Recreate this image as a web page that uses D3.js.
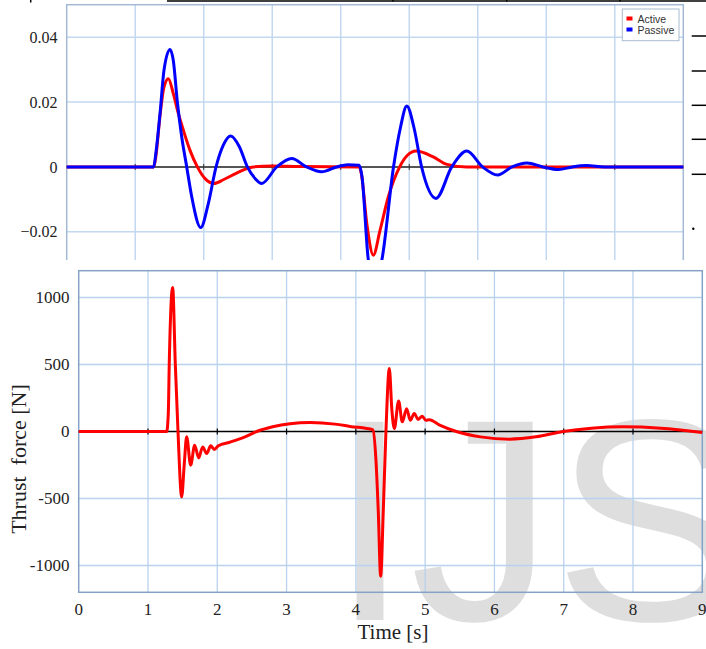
<!DOCTYPE html>
<html>
<head>
<meta charset="utf-8">
<script src="https://cdn.jsdelivr.net/npm/d3@7"></script>
<style>
  body { margin: 0; background: #fff; }
  svg text { font-family: "Liberation Serif", "Times New Roman", serif; fill: #222; }
  svg .legend text { font-family: "Liberation Sans", Arial, sans-serif; fill: #333; }
</style>
</head>
<body>
<div id="chart"></div>
<script>
// time axis shared by both panels
var timeTicks = [0, 1, 2, 3, 4, 5, 6, 7, 8, 9];
var dispTicks = [0.04, 0.02, 0, -0.02];
var forceTicks = [1000, 500, 0, -500, -1000];
var seriesNames = ["Active", "Passive"];

// [t, value]
var activeDisp = [
  [0, 0], [1.27, 0], [1.30, 0.003], [1.362, 0.0158], [1.42, 0.0246], [1.484, 0.0272],
  [1.556, 0.0226], [1.63, 0.0164], [1.703, 0.0113], [1.80, 0.0051], [1.907, 0],
  [2.02, -0.0036], [2.15, -0.0051], [2.30, -0.0038], [2.48, -0.0019], [2.72, 0],
  [3.0, 0.0003], [3.4, 0.0001], [4.27, 0], [4.30, -0.002], [4.38, -0.0174],
  [4.476, -0.0272], [4.574, -0.0195], [4.695, -0.0092], [4.86, 0], [4.97, 0.0035],
  [5.10, 0.0049], [5.35, 0.0031], [5.55, 0.0008], [5.84, 0], [9, 0]
];
var passiveDisp = [
  [0, 0], [1.27, 0], [1.30, 0.004], [1.362, 0.0164], [1.42, 0.0298], [1.508, 0.0362],
  [1.556, 0.0328], [1.615, 0.02], [1.679, 0.0092], [1.752, 0], [1.825, -0.0092],
  [1.956, -0.0187], [2.067, -0.0113], [2.18, 0], [2.286, 0.0067], [2.394, 0.0095],
  [2.52, 0.0062], [2.637, 0], [2.75, -0.0036], [2.847, -0.0051], [3.066, 0],
  [3.285, 0.0026], [3.50, 0], [3.72, -0.0015], [3.94, 0], [4.1, 0.0007], [4.27, 0.0005],
  [4.31, -0.003], [4.403, -0.0287], [4.50, -0.036], [4.60, -0.0287], [4.77, 0],
  [4.87, 0.012], [4.964, 0.0188], [5.07, 0.012], [5.18, 0], [5.39, -0.0097], [5.62, 0],
  [5.84, 0.0049], [6.07, 0], [6.29, -0.0025], [6.50, 0], [6.72, 0.0012], [6.95, 0],
  [7.18, -0.0008], [7.38, 0], [7.59, 0.0004], [7.85, 0], [9, 0]
];
var thrustForce = [
  [0, 0], [1.27, 0], [1.293, 134], [1.307, 507], [1.356, 1075], [1.394, 507], [1.433, 0],
  [1.486, -488], [1.524, -239], [1.558, -40], [1.616, -251], [1.674, -102], [1.731, -197],
  [1.789, -115], [1.847, -164], [1.905, -107], [1.957, -134], [2.015, -107], [2.18, -80],
  [2.4, -40], [2.57, 0], [2.8, 35], [3.05, 58], [3.34, 67], [3.7, 55], [3.915, 38],
  [4.25, 12], [4.29, -214], [4.323, -587], [4.358, -1080], [4.396, -587], [4.434, 0],
  [4.483, 470], [4.52, 159], [4.555, 22], [4.617, 228], [4.67, 72], [4.733, 169],
  [4.785, 84], [4.843, 134], [4.9, 90], [4.958, 114], [5.01, 84], [5.06, 88], [5.21, 47],
  [5.45, 0], [5.8, -40], [6.22, -57], [6.6, -40], [6.99, 0], [7.4, 25], [7.86, 35],
  [8.4, 25], [9, -7]
];

(function() {
  var width = 706, height = 649;
  var serif = "'Liberation Serif', 'Times New Roman', serif";

  var svg = d3.select("#chart")
      .append("svg")
      .attr("width", width)
      .attr("height", height);

  var defs = svg.append("defs");
  defs.append("clipPath").attr("id", "topclip")
    .append("rect").attr("x", 0).attr("y", 0).attr("width", width).attr("height", 260);

  // ---------- top panel (displacement), cut off by the lower figure ----------
  var xt = d3.scaleLinear().domain([0, 9]).range([66.7, 683.3]);
  var yt = d3.scaleLinear().domain([-0.04, 0.05]).range([296.7, 4.7]);

  var top = svg.append("g").attr("clip-path", "url(#topclip)");

  top.selectAll(".vgrid").data(timeTicks.slice(1, -1))
    .enter().append("line")
    .attr("x1", function(d) { return xt(d); }).attr("x2", function(d) { return xt(d); })
    .attr("y1", yt(0.05)).attr("y2", yt(-0.04))
    .attr("stroke", "#c2d8f0").attr("stroke-width", 1.5);

  top.selectAll(".hgrid").data([0.04, 0.02, -0.02, -0.04])
    .enter().append("line")
    .attr("x1", xt(0)).attr("x2", xt(9))
    .attr("y1", function(d) { return yt(d); }).attr("y2", function(d) { return yt(d); })
    .attr("stroke", "#c2d8f0").attr("stroke-width", 1.5);

  top.append("rect")
    .attr("x", xt(0)).attr("y", yt(0.05))
    .attr("width", xt(9) - xt(0)).attr("height", yt(-0.04) - yt(0.05))
    .attr("fill", "none").attr("stroke", "#a3b9d4").attr("stroke-width", 1.5);

  top.append("line")
    .attr("x1", xt(0)).attr("x2", xt(9)).attr("y1", yt(0)).attr("y2", yt(0))
    .attr("stroke", "#555").attr("stroke-width", 2);
  top.selectAll(".ttick").data(timeTicks.slice(1, -1))
    .enter().append("line")
    .attr("x1", function(d) { return xt(d); }).attr("x2", function(d) { return xt(d); })
    .attr("y1", yt(0) - 3).attr("y2", yt(0) + 3)
    .attr("stroke", "#333").attr("stroke-width", 1);

  top.selectAll(".ylab").data(dispTicks)
    .enter().append("text")
    .attr("x", 57.5).attr("y", function(d) { return yt(d); })
    .attr("dy", "0.35em").attr("text-anchor", "end")
    .attr("font-size", 16)
    .style("font-family", serif)
    .text(function(d) { return d === 0 ? "0" : d3.format(".2f")(d); });

  var lineT = d3.line()
    .x(function(d) { return xt(d[0]); })
    .y(function(d) { return yt(d[1]); })
    .curve(d3.curveMonotoneX);

  top.append("path").datum(activeDisp)
    .attr("d", lineT).attr("fill", "none")
    .attr("stroke", "#ff0000").attr("stroke-width", 3);
  top.append("path").datum(passiveDisp)
    .attr("d", lineT).attr("fill", "none")
    .attr("stroke", "#0000ff").attr("stroke-width", 3);

  var legend = top.append("g").attr("class", "legend");
  legend.append("rect")
    .attr("x", 622.3).attr("y", 9).attr("width", 56.7).attr("height", 31.7)
    .attr("fill", "#fff").attr("stroke", "#a8bccf").attr("stroke-width", 1);
  legend.selectAll(".sw").data(seriesNames)
    .enter().append("rect")
    .attr("x", 626.5).attr("y", function(d, i) { return 16.5 + i * 11; })
    .attr("width", 6).attr("height", 4)
    .attr("fill", function(d, i) { return i === 0 ? "#ff0000" : "#0000ff"; });
  legend.selectAll(".lt").data(seriesNames)
    .enter().append("text")
    .attr("x", 637.5).attr("y", function(d, i) { return 22.5 + i * 11; })
    .attr("font-size", 10.5)
    .text(function(d) { return d; });

  // bits of the surrounding page
  var page = svg.append("g").attr("stroke", "#000").attr("stroke-width", 1.5);
  page.append("line").attr("x1", 167).attr("x2", 706).attr("y1", 1).attr("y2", 1);
  [393, 506.7, 620].forEach(function(x) {
    page.append("line").attr("x1", x).attr("x2", x).attr("y1", 0).attr("y2", 1.5);
  });
  page.append("line").attr("x1", 30.7).attr("x2", 30.7).attr("y1", 0).attr("y2", 2.5);
  [36, 71, 105.3, 139.3, 174.3].forEach(function(y) {
    page.append("line").attr("x1", 691.7).attr("x2", 706).attr("y1", y).attr("y2", y);
  });
  svg.append("circle").attr("cx", 693.3).attr("cy", 228.7).attr("r", 1.2).attr("fill", "#000");

  // ---------- bottom panel (thrust force) ----------
  var xb = d3.scaleLinear().domain([0, 9]).range([78.7, 702.3]);
  var yb = d3.scaleLinear().domain([-1200, 1200]).range([592.3, 270.7]);

  var bot = svg.append("g");

  // watermark sits behind the grid and the labels
  bot.append("text")
    .attr("x", 330).attr("y", 620)
    .attr("font-size", 288)
    .style("font-family", "'Liberation Sans', Arial, sans-serif")
    .style("fill", "#dedede")
    .text("IJS");

  bot.selectAll(".vgrid").data(timeTicks.slice(1, -1))
    .enter().append("line")
    .attr("x1", function(d) { return xb(d); }).attr("x2", function(d) { return xb(d); })
    .attr("y1", yb(1200)).attr("y2", yb(-1200))
    .attr("stroke", "#b8d2ee").attr("stroke-width", 1.3);

  bot.selectAll(".hgrid").data(forceTicks.filter(function(d) { return d !== 0; }))
    .enter().append("line")
    .attr("x1", xb(0)).attr("x2", xb(9))
    .attr("y1", function(d) { return yb(d); }).attr("y2", function(d) { return yb(d); })
    .attr("stroke", "#b8d2ee").attr("stroke-width", 1.3);

  bot.append("rect")
    .attr("x", xb(0)).attr("y", yb(1200))
    .attr("width", xb(9) - xb(0)).attr("height", yb(-1200) - yb(1200))
    .attr("fill", "none").attr("stroke", "#86a2c6").attr("stroke-width", 1.5);

  bot.append("line")
    .attr("x1", xb(0)).attr("x2", xb(9)).attr("y1", yb(0)).attr("y2", yb(0))
    .attr("stroke", "#000").attr("stroke-width", 1.3);
  bot.selectAll(".ttick").data(timeTicks.slice(1, -1))
    .enter().append("line")
    .attr("x1", function(d) { return xb(d); }).attr("x2", function(d) { return xb(d); })
    .attr("y1", yb(0) - 3).attr("y2", yb(0) + 3)
    .attr("stroke", "#000").attr("stroke-width", 1.2);

  bot.selectAll(".ylab").data(forceTicks)
    .enter().append("text")
    .attr("x", 69.5).attr("y", function(d) { return yb(d); })
    .attr("dy", "0.35em").attr("text-anchor", "end")
    .attr("font-size", 17)
    .style("font-family", serif)
    .text(function(d) { return d; });

  bot.selectAll(".xlab").data(timeTicks)
    .enter().append("text")
    .attr("x", function(d) { return xb(d); }).attr("y", 615)
    .attr("text-anchor", "middle")
    .attr("font-size", 17)
    .style("font-family", serif)
    .text(function(d) { return d; });

  bot.append("text")
    .attr("x", 393).attr("y", 639)
    .attr("text-anchor", "middle")
    .attr("font-size", 21)
    .style("font-family", serif)
    .text("Time [s]");

  bot.append("text")
    .attr("transform", "translate(26,459) rotate(-90)")
    .attr("text-anchor", "middle")
    .attr("font-size", 22)
    .style("font-family", serif)
    .style("white-space", "pre")
    .text("Thrust  force [N]");

  var lineB = d3.line()
    .x(function(d) { return xb(d[0]); })
    .y(function(d) { return yb(d[1]); })
    .curve(d3.curveMonotoneX);

  bot.append("path").datum(thrustForce)
    .attr("d", lineB).attr("fill", "none")
    .attr("stroke", "#ff0000").attr("stroke-width", 3)
    .attr("stroke-linejoin", "round");
})();
</script>
</body>
</html>
